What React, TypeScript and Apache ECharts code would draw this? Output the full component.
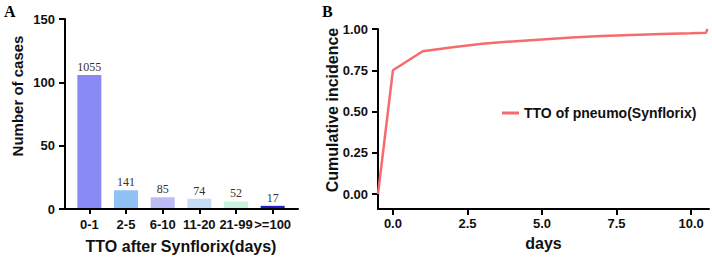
import React, { useEffect, useRef } from "react";
import * as echarts from "echarts";

const categories = ["0-1", "2-5", "6-10", "11-20", "21-99", ">=100"];
const barHeights = [105.5, 14.1, 8.5, 7.4, 5.2, 1.7];
const barCounts = [1055, 141, 85, 74, 52, 17];
const barColors = ["#8A8AF7", "#90C2F6", "#BBBBF6", "#C6DBF6", "#C9F1DF", "#1E1EC2"];

const days = [-0.5, 0, 1, 2, 3, 4, 5, 6, 7, 8, 9, 10, 10.5, 10.55];
const incidence = [0, 0.75, 0.865, 0.89, 0.91, 0.925, 0.937, 0.948, 0.957, 0.964, 0.97, 0.975, 0.978, 1.0];
const yTicksB = [0, 0.25, 0.5, 0.75, 1.0];
const xTicksB = [0, 2.5, 5, 7.5, 10];

const SANS = '"Liberation Sans", Arial, sans-serif';
const SERIF = '"Liberation Serif", "Times New Roman", serif';

export default function App() {
  const ref = useRef<HTMLDivElement>(null);
  useEffect(() => {
    const chart = echarts.init(ref.current!, null, { renderer: "svg" });
    const axisLine = { show: true, onZero: false, lineStyle: { color: "#000", width: 2 } };
    const tick = { show: true, length: 6, lineStyle: { color: "#000", width: 2 } };
    const lbl = { color: "#111", fontFamily: SANS, fontWeight: "bold" as const, fontSize: 13 };
    chart.setOption({
      animation: false,
      grid: [
        { left: 71, top: 19, width: 220, height: 190 },
        { left: 65, top: 19, width: 233, height: 190 },
        { left: 378, top: 29, width: 331, height: 180 },
      ],
      xAxis: [
        {
          type: "category",
          gridIndex: 0,
          data: categories,
          axisLine: { show: false },
          axisTick: { ...tick, alignWithLabel: true },
          axisLabel: { ...lbl, margin: 10, interval: 0 },
          name: "TTO after Synflorix(days)",
          nameLocation: "middle",
          nameGap: 30,
          nameTextStyle: { color: "#111", fontFamily: SANS, fontWeight: "bold", fontSize: 16 },
        },
        {
          type: "value",
          gridIndex: 1,
          min: 0,
          max: 1,
          axisLine: axisLine,
          axisTick: { show: false },
          axisLabel: { show: false },
          splitLine: { show: false },
        },
        {
          type: "value",
          gridIndex: 2,
          min: -0.5,
          max: 10.6,
          axisLine: axisLine,
          axisTick: { ...tick, customValues: xTicksB },
          axisLabel: { ...lbl, margin: 8, customValues: xTicksB, formatter: (v: number) => v.toFixed(1) },
          splitLine: { show: false },
          name: "days",
          nameLocation: "middle",
          nameGap: 26,
          nameTextStyle: { color: "#111", fontFamily: SANS, fontWeight: "bold", fontSize: 16 },
        },
      ],
      yAxis: [
        { type: "value", gridIndex: 0, min: 0, max: 150, show: false, splitLine: { show: false } },
        {
          type: "value",
          gridIndex: 1,
          min: 0,
          max: 150,
          interval: 50,
          axisLine: axisLine,
          axisTick: tick,
          axisLabel: { ...lbl, margin: 10 },
          splitLine: { show: false },
        },
        {
          type: "value",
          gridIndex: 2,
          min: -0.09,
          max: 1.0,
          axisLine: axisLine,
          axisTick: { ...tick, customValues: yTicksB },
          axisLabel: { ...lbl, margin: 10, customValues: yTicksB, formatter: (v: number) => v.toFixed(2) },
          splitLine: { show: false },
        },
      ],
      legend: {
        left: 497,
        top: 101,
        itemWidth: 17,
        itemHeight: 3,
        itemGap: 5,
        icon: "rect",
        data: [{ name: "TTO of pneumo(Synflorix)", itemStyle: { color: "#F66B6B" } }],
        textStyle: { color: "#111", fontFamily: SANS, fontWeight: "bold", fontSize: 14 },
      },
      series: [
        {
          type: "bar",
          xAxisIndex: 0,
          yAxisIndex: 0,
          barWidth: 24,
          data: barHeights.map((v, i) => ({ value: v, itemStyle: { color: barColors[i] } })),
          label: {
            show: true,
            position: "top",
            distance: 2,
            fontFamily: SERIF,
            fontSize: 12,
            color: "#333",
            formatter: (p: any) => String(barCounts[p.dataIndex]),
          },
        },
        {
          type: "line",
          name: "TTO of pneumo(Synflorix)",
          xAxisIndex: 2,
          yAxisIndex: 2,
          showSymbol: false,
          symbol: "none",
          clip: false,
          lineStyle: { color: "#F66B6B", width: 2.5 },
          itemStyle: { color: "#F66B6B" },
          data: days.map((d, i) => [d, incidence[i]]),
        },
      ],
      graphic: [
        {
          type: "text",
          left: 4,
          top: 3,
          style: { text: "A", font: `bold 16px ${SERIF}`, fill: "#000" },
        },
        {
          type: "text",
          left: 322,
          top: 3,
          style: { text: "B", font: `bold 16px ${SERIF}`, fill: "#000" },
        },
        {
          type: "text",
          x: 17,
          y: 96,
          rotation: Math.PI / 2,
          style: {
            text: "Number of cases",
            font: `bold 15px ${SANS}`,
            fill: "#111",
            align: "center",
            verticalAlign: "middle",
          },
        },
        {
          type: "text",
          x: 332,
          y: 110,
          rotation: Math.PI / 2,
          style: {
            text: "Cumulative incidence",
            font: `bold 16px ${SANS}`,
            fill: "#111",
            align: "center",
            verticalAlign: "middle",
          },
        },
      ],
    });
    return () => chart.dispose();
  }, []);
  return (
    <div
      ref={ref}
      style={{ position: "fixed", left: 0, top: 0, width: 712, height: 259, background: "#fff" }}
    />
  );
}
